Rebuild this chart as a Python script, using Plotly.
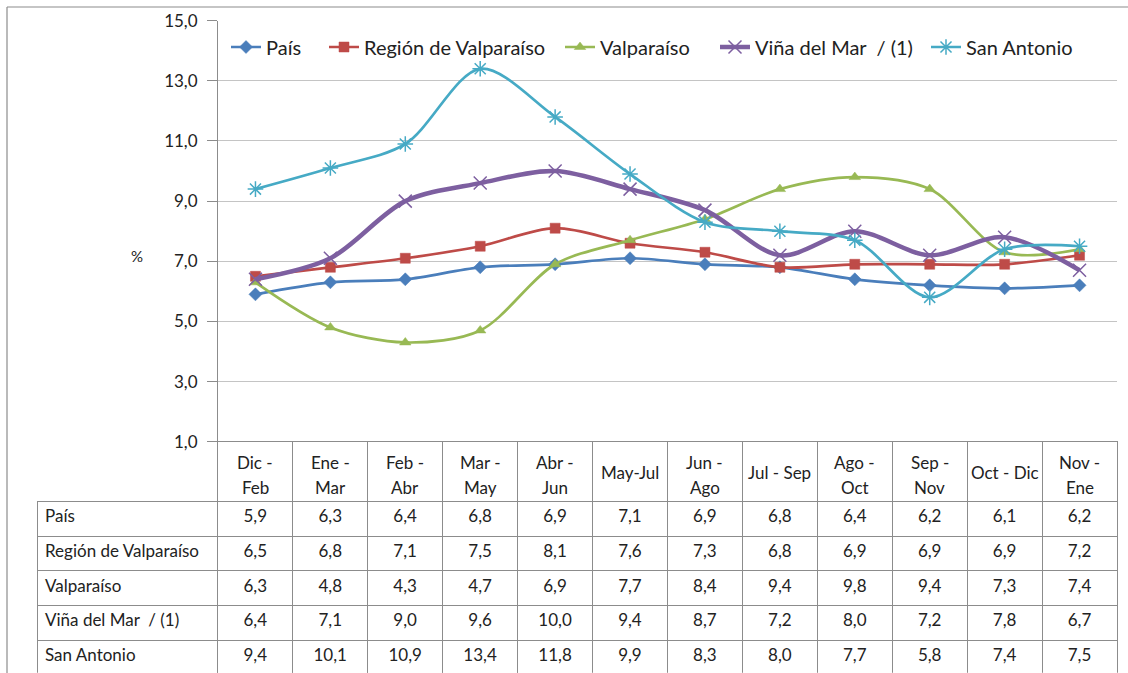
import plotly.graph_objects as go

categories = ["Dic -<br>Feb", "Ene -<br>Mar", "Feb -<br>Abr", "Mar -<br>May", "Abr -<br>Jun",
              "May-Jul", "Jun -<br>Ago", "Jul - Sep", "Ago -<br>Oct", "Sep -<br>Nov",
              "Oct - Dic", "Nov -<br>Ene"]
series_names = ["País", "Región de Valparaíso", "Valparaíso", "Viña del Mar  / (1)", "San Antonio"]
pais = [5.9, 6.3, 6.4, 6.8, 6.9, 7.1, 6.9, 6.8, 6.4, 6.2, 6.1, 6.2]
region = [6.5, 6.8, 7.1, 7.5, 8.1, 7.6, 7.3, 6.8, 6.9, 6.9, 6.9, 7.2]
valparaiso = [6.3, 4.8, 4.3, 4.7, 6.9, 7.7, 8.4, 9.4, 9.8, 9.4, 7.3, 7.4]
vina = [6.4, 7.1, 9.0, 9.6, 10.0, 9.4, 8.7, 7.2, 8.0, 7.2, 7.8, 6.7]
san_antonio = [9.4, 10.1, 10.9, 13.4, 11.8, 9.9, 8.3, 8.0, 7.7, 5.8, 7.4, 7.5]
y_ticks = [1, 3, 5, 7, 9, 11, 13, 15]

series = [pais, region, valparaiso, vina, san_antonio]
colors = ["#4A7EBB", "#BE4B48", "#98B954", "#7D5FA0", "#46AAC5"]
symbols = ["diamond", "square", "triangle-up", "x-thin-open", "asterisk-open"]
msizes = [10, 10, 10, 13, 13]
lwidths = [2.7, 2.7, 2.7, 4.5, 2.7]
legend_text_x = [268, 366, 602, 757, 968]   # pixel position of legend labels

W, H = 1128, 673
FONT = "Lato"
TXT = "#222222"
GRID = "#C4C4C4"
BORDER = "#8C8C8C"

px_left, px_right = 218, 1117
px_top, px_bottom = 20.7, 441.7
header_h = 60

fig = go.Figure()
x_idx = list(range(len(categories)))
legend_ids = ["legend", "legend2", "legend3", "legend4", "legend5"]
for name, vals, c, s, ms, lw, lid in zip(series_names, series, colors, symbols, msizes, lwidths, legend_ids):
    fig.add_trace(go.Scatter(
        x=x_idx, y=vals, name=name, mode="lines+markers", legend=lid,
        line=dict(color=c, width=lw, shape="spline", smoothing=0.9),
        marker=dict(symbol=s, size=ms, color=c, line=dict(color=c, width=1.5 if "open" in s else 0.5)),
    ))

def fmt(v):
    return f"{v:.1f}".replace(".", ",")

ncat = len(categories)
col_values = [series_names] + [[fmt(sr[j]) for sr in series] for j in range(ncat)]
fig.add_trace(go.Table(
    domain=dict(x=[37 / W, px_right / W], y=[0, 1 - px_bottom / H]),
    columnwidth=[181] + [75] * ncat,
    header=dict(values=[""] * (ncat + 1), height=header_h,
                fill=dict(color="rgba(0,0,0,0)"),
                line=dict(color=["rgba(0,0,0,0)"] + [BORDER] * ncat, width=1),
                font=dict(family=FONT, size=17, color=TXT)),
    cells=dict(values=col_values, height=34.6,
               fill=dict(color="white"),
               line=dict(color=BORDER, width=1),
               align=["left"] + ["center"] * ncat,
               font=dict(family=FONT, size=17, color=TXT)),
))

annotations = [dict(text="%", x=129 / W, y=1 - 256 / H, xref="paper", yref="paper",
                    showarrow=False, font=dict(family=FONT, size=15, color=TXT))]
# header labels: each line placed separately to mimic the Excel line spacing
for j, cat in enumerate(categories):
    lines = cat.split("<br>")
    ys = [462, 487] if len(lines) == 2 else [473]
    for ln, yy in zip(lines, ys):
        annotations.append(dict(text=ln, x=j, xref="x", y=1 - yy / H, yref="paper",
                                yanchor="middle", showarrow=False,
                                font=dict(family=FONT, size=17, color=TXT)))

layout_legends = {}
for lid, tx in zip(legend_ids, legend_text_x):
    layout_legends[lid] = dict(orientation="h", x=(tx - 42) / W, xanchor="left", y=1 - 47 / H,
                               yanchor="middle", bgcolor="rgba(255,255,255,0)",
                               font=dict(family=FONT, size=20, color=TXT))

border = dict(color=BORDER, width=1.2)
fig.update_layout(
    width=W, height=H,
    margin=dict(l=0, r=0, t=0, b=0),
    paper_bgcolor="white", plot_bgcolor="white",
    separators=",.",
    font=dict(family=FONT, size=17, color=TXT),
    showlegend=True,
    xaxis=dict(domain=[px_left / W, px_right / W], range=[-0.5, ncat - 0.5],
               showticklabels=False, showgrid=False, zeroline=False, showline=False, ticks=""),
    yaxis=dict(domain=[1 - px_bottom / H, 1 - px_top / H], range=[1, 15],
               tickvals=y_ticks, tickformat=".1f", showgrid=True, gridcolor=GRID, gridwidth=1,
               zeroline=False, showline=True, linecolor=BORDER, linewidth=1,
               ticks="outside", ticklen=10, tickcolor=BORDER, ticklabelstandoff=6,
               automargin=False,
               tickfont=dict(family=FONT, size=17, color=TXT)),
    annotations=annotations,
    shapes=[
        dict(type="line", xref="paper", yref="paper", x0=7 / W, x1=7 / W, y0=0, y1=1 - 7 / H, line=border, layer="above"),
        dict(type="line", xref="paper", yref="paper", x0=7 / W, x1=1, y0=1 - 7 / H, y1=1 - 7 / H, line=border, layer="above"),
    ],
    **layout_legends,
)

fig.write_html("out.html", config={"displayModeBar": False},
               post_script="document.body.style.margin='0px';document.body.style.overflow='hidden';")
